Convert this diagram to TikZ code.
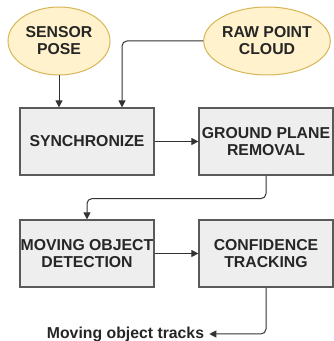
\documentclass[tikz,border=0pt]{standalone}
\usepackage{fontspec}
\setmainfont{Liberation Sans}
\usetikzlibrary{arrows.meta,shapes.geometric}
\definecolor{elfill}{HTML}{FFF2CC}
\definecolor{eldraw}{HTML}{D6B656}
\definecolor{boxfill}{HTML}{EEEEEE}
\definecolor{boxdraw}{HTML}{5A5A5A}
\definecolor{linec}{HTML}{333333}
\begin{document}
\begin{tikzpicture}[x=1pt,y=1pt,
  lbl/.style={font=\fontsize{15.8}{17}\selectfont\bfseries, align=center, text=black!85},
  inbox/.style={lbl, ellipse, draw=eldraw, fill=elfill, line width=1pt, minimum width=102pt, minimum height=68pt, inner sep=0pt},
  stepbox/.style={lbl, rectangle, draw=boxdraw, fill=boxfill, line width=1.2pt, minimum width=134pt, minimum height=67pt, inner sep=0pt},
  conn/.style={draw=linec, line width=1pt, -{Triangle[length=7pt,width=7pt]}, rounded corners=5pt}
]
\useasboundingbox (0,0) rectangle (333,341);
\node[inbox] (sp) at (59,300) {SENSOR\\POSE};
\node[inbox] (rpc) at (267,300) {RAW POINT\\CLOUD};
\node[stepbox] (sync) at (87,199.5) {SYNCHRONIZE};
\node[stepbox] (gpr) at (266,199.5) {GROUND PLANE\\REMOVAL};
\node[stepbox] (mod) at (87,87.5) {MOVING OBJECT\\DETECTION};
\node[stepbox] (ct) at (266,87.5) {CONFIDENCE\\TRACKING};
\node[lbl, inner sep=0pt] (out) at (125.5,7) {Moving object tracks};
\coordinate (rin) at ([xshift=35pt]sync.north);
\coordinate (outend) at ([xshift=5pt]out.east);
\draw[conn] (sp.south) -- (sync.north -| sp.south);
\draw[conn] (rpc.west) -| (rin);
\draw[conn] (sync.east) -- (gpr.west);
\draw[conn] (gpr.south) |- ([yshift=-23pt]gpr.south -| mod.north) -- (mod.north);
\draw[conn] (mod.east) -- (ct.west);
\draw[conn] (ct.south) |- (outend);
\end{tikzpicture}
\end{document}
